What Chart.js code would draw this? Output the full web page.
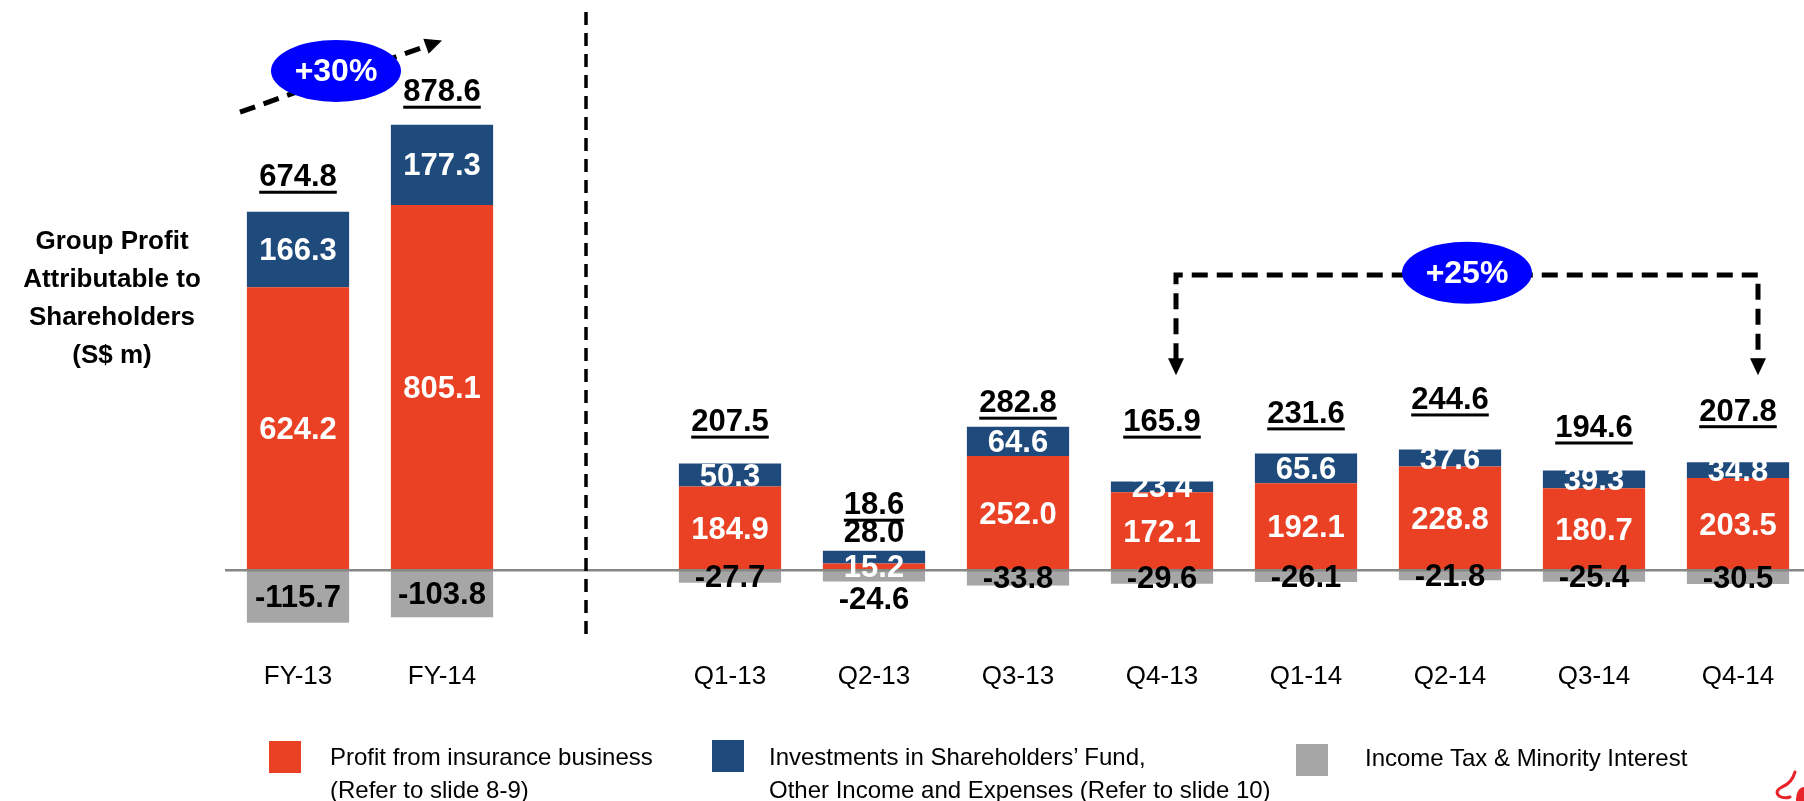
<!DOCTYPE html>
<html>
<head>
<meta charset="utf-8">
<title>Group Profit Attributable to Shareholders</title>
<script src="https://cdn.jsdelivr.net/npm/chart.js@4.4.1/dist/chart.umd.min.js"></script>
<style>
html,body{margin:0;padding:0;background:#fff;overflow:hidden;}
body{width:1804px;height:801px;position:relative;font-family:"Liberation Sans",Arial,sans-serif;color:#000;}
#wrap{position:absolute;left:0;top:0;width:1810px;height:801px;}
.ytitle{position:absolute;left:0;top:221px;width:224px;text-align:center;font-weight:bold;font-size:26px;line-height:38px;}
.swatch{position:absolute;width:32px;height:32px;}
.ltext{position:absolute;font-size:24px;line-height:33px;white-space:nowrap;}
</style>
</head>
<body>
<div id="wrap"><canvas id="profitChart" width="1810" height="801"></canvas></div>
<div class="ytitle">Group Profit<br>Attributable to<br>Shareholders<br>(S$ m)</div>

<div class="swatch" style="left:269px;top:741px;background:#EA4125"></div>
<div class="ltext" style="left:330px;top:740px">Profit from insurance business<br>(Refer to slide 8-9)</div>
<div class="swatch" style="left:712px;top:740px;background:#1F4A7C"></div>
<div class="ltext" style="left:769px;top:740px">Investments in Shareholders’ Fund,<br>Other Income and Expenses (Refer to slide 10)</div>
<div class="swatch" style="left:1296px;top:744px;background:#A6A6A6"></div>
<div class="ltext" style="left:1365px;top:741px">Income Tax &amp; Minority Interest</div>

<script>
const categories=['FY-13','FY-14','','Q1-13','Q2-13','Q3-13','Q4-13','Q1-14','Q2-14','Q3-14','Q4-14'];
const insurance=[624.2,805.1,null,184.9,15.2,252.0,172.1,192.1,228.8,180.7,203.5];
const investments=[166.3,177.3,null,50.3,28.0,64.6,23.4,65.6,37.6,39.3,34.8];
const taxMinority=[-115.7,-103.8,null,-27.7,-24.6,-33.8,-29.6,-26.1,-21.8,-25.4,-30.5];
const totals=[674.8,878.6,null,207.5,18.6,282.8,165.9,231.6,244.6,194.6,207.8];

// gap in px between bar top and the underlined total
const totalGap=[19,17,0,26,30,8,44,24,34,27,35];
// labels that sit outside their segment (Q2-13 is too thin)
const labelShift={'1-4':{side:'above',gap:17},'2-4':{side:'below',gap:19}};

const FONT='"Liberation Sans", Arial, sans-serif';

const zeroLine={
id:'zeroLine',
afterDatasetsDraw(chart){
const c=chart.ctx;
const y=chart.scales.y.getPixelForValue(0);
c.save();
c.strokeStyle='#878787';
c.lineWidth=2.5;
c.beginPath();
c.moveTo(chart.chartArea.left-1,y);
c.lineTo(chart.width,y);
c.stroke();
c.restore();
}
};

const valueLabels={
id:'valueLabels',
afterDatasetsDraw(chart){
const c=chart.ctx;
c.save();
c.font='bold 31px '+FONT;
c.textAlign='center';
c.textBaseline='middle';
chart.data.datasets.forEach((ds,d)=>{
const meta=chart.getDatasetMeta(d);
meta.data.forEach((bar,i)=>{
const v=ds.data[i];
if(v===null) return;
let y=(bar.y+bar.base)/2+2;
let colour=d===2?'#000':'#fff';
const s=labelShift[d+'-'+i];
if(s){
y=s.side==='above'?Math.min(bar.y,bar.base)-s.gap:Math.max(bar.y,bar.base)+s.gap;
colour='#000';
}
c.fillStyle=colour;
c.fillText(v.toFixed(1),bar.x,y);
});
});
const topMeta=chart.getDatasetMeta(1);
totals.forEach((t,i)=>{
if(t===null) return;
const bar=topMeta.data[i];
const y=bar.y-totalGap[i]-15;
const txt=t.toFixed(1);
c.fillStyle='#000';
c.fillText(txt,bar.x,y);
const w=c.measureText(txt).width;
c.fillRect(bar.x-w/2,y+13,w,3);
});
c.restore();
}
};

function arrowHead(c,x,y,angle,len,half){
c.save();
c.translate(x,y);
c.rotate(angle);
c.beginPath();
c.moveTo(0,0);
c.lineTo(-len,-half);
c.lineTo(-len,half);
c.closePath();
c.fill();
c.restore();
}

function bubble(c,x,y,text){
c.save();
c.fillStyle='#0000FF';
c.beginPath();
c.ellipse(x,y,65,31,0,0,Math.PI*2);
c.fill();
c.fillStyle='#fff';
c.font='bold 32px '+FONT;
c.textAlign='center';
c.textBaseline='middle';
c.fillText(text,x,y+1);
c.restore();
}

function logo(c,w,h){
c.save();
c.strokeStyle='#E8232A';
c.fillStyle='#E8232A';
c.lineWidth=3;
c.lineCap='round';
c.beginPath();
c.moveTo(w-9,h-29);
c.quadraticCurveTo(w-12,h-18,w-22,h-14);
c.quadraticCurveTo(w-30,h-10,w-25,h-5);
c.quadraticCurveTo(w-20,h-2,w-14,h-4);
c.stroke();
c.beginPath();
c.ellipse(w,h-2,8,12,0,0,Math.PI*2);
c.fill();
c.restore();
}

const annotations={
id:'annotations',
afterDraw(chart){
const c=chart.ctx;
const xs=chart.scales.x;
const ys=chart.scales.y;
c.save();
c.strokeStyle='#000';
c.fillStyle='#000';

// divider between full year and quarters
const dx=xs.getPixelForValue(2);
c.lineWidth=3.5;
c.setLineDash([13,8]);
c.beginPath();
c.moveTo(dx,ys.getPixelForValue(1231));
c.lineTo(dx,ys.getPixelForValue(-153));
c.stroke();

// +30% arrow
const ax0=xs.getPixelForValue(0)-58, ay0=ys.getPixelForValue(1010);
const ax1=xs.getPixelForValue(1), ay1=ys.getPixelForValue(1168);
const ang=Math.atan2(ay1-ay0,ax1-ax0);
c.lineWidth=5;
c.setLineDash([16,9]);
c.beginPath();
c.moveTo(ax0,ay0);
c.lineTo(ax1-14*Math.cos(ang),ay1-14*Math.sin(ang));
c.stroke();
c.setLineDash([]);
arrowHead(c,ax1,ay1,ang,17,8);
bubble(c,xs.getPixelForValue(0)+38,ys.getPixelForValue(1101),'+30%');

// +25% bracket Q4-13 -> Q4-14
const bl=xs.getPixelForValue(6)+14, br=xs.getPixelForValue(10)+20;
const by=ys.getPixelForValue(651), tip=ys.getPixelForValue(430);
c.lineWidth=5;
c.setLineDash([16,9]);
c.beginPath();
c.moveTo(bl,tip-16);
c.lineTo(bl,by);
c.lineTo(br,by);
c.lineTo(br,tip-16);
c.stroke();
c.setLineDash([]);
arrowHead(c,bl,tip,Math.PI/2,17,8);
arrowHead(c,br,tip,Math.PI/2,17,8);
bubble(c,(bl+br)/2,ys.getPixelForValue(656),'+25%');
c.restore();

logo(c,1804,801);
}
};

new Chart(document.getElementById('profitChart'),{
type:'bar',
data:{
labels:categories,
datasets:[
{label:'Profit from insurance business',data:insurance,backgroundColor:'#EA4125',borderWidth:0},
{label:'Investments in Shareholders’ Fund, Other Income and Expenses',data:investments,backgroundColor:'#1F4A7C',borderWidth:0},
{label:'Income Tax & Minority Interest',data:taxMinority,backgroundColor:'#A6A6A6',borderWidth:0}
]
},
options:{
responsive:false,
animation:false,
layout:{padding:{left:226,right:0,top:26,bottom:0}},
datasets:{bar:{categoryPercentage:1,barPercentage:0.71}},
plugins:{legend:{display:false},tooltip:{enabled:false}},
scales:{
x:{
stacked:true,
grid:{display:false,drawTicks:false},
border:{display:false},
ticks:{color:'#000',padding:0,font:{family:FONT,size:26}},
afterFit(scale){scale.height=140;}
},
y:{
stacked:true,
display:false,
min:-200,
max:1200
}
}
},
plugins:[zeroLine,valueLabels,annotations]
});
</script>
</body>
</html>
